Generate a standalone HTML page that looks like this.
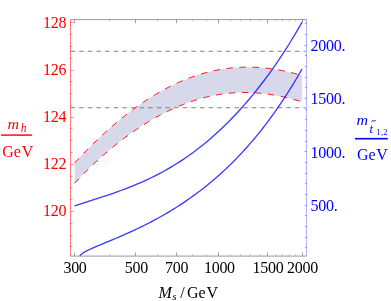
<!DOCTYPE html>
<html><head><meta charset="utf-8"><title>plot</title>
<style>
html,body{margin:0;padding:0;background:#fff;}
body{width:391px;height:301px;overflow:hidden;font-family:"Liberation Serif",serif;}
svg{display:block;font-family:"Liberation Serif",serif;will-change:transform;}
</style></head><body>
<svg width="391" height="301" viewBox="0 0 391 301">
<rect width="391" height="301" fill="#fff"/>
<path d="M74.60,162.98 L78.45,158.84 L82.31,154.78 L86.16,150.81 L90.01,146.92 L93.86,143.12 L97.72,139.41 L101.57,135.78 L105.42,132.24 L109.27,128.79 L113.13,125.43 L116.98,122.16 L120.83,118.98 L124.68,115.88 L128.54,112.88 L132.39,109.97 L136.24,107.15 L140.09,104.43 L143.95,101.80 L147.80,99.26 L151.65,96.82 L155.50,94.47 L159.36,92.21 L163.21,90.06 L167.06,87.99 L170.91,86.03 L174.77,84.16 L178.62,82.39 L182.47,80.72 L186.32,79.14 L190.18,77.66 L194.03,76.28 L197.88,75.00 L201.73,73.81 L205.59,72.73 L209.44,71.74 L213.29,70.84 L217.14,70.05 L221.00,69.35 L224.85,68.75 L228.70,68.24 L232.55,67.83 L236.41,67.52 L240.26,67.29 L244.11,67.16 L247.96,67.13 L251.82,67.18 L255.67,67.32 L259.52,67.55 L263.37,67.87 L267.23,68.27 L271.08,68.76 L274.93,69.33 L278.78,69.98 L282.64,70.70 L286.49,71.50 L290.34,72.38 L294.19,73.33 L298.05,74.34 L301.90,75.42 L301.90,101.80 L298.05,100.67 L294.19,99.59 L290.34,98.58 L286.49,97.64 L282.64,96.76 L278.78,95.96 L274.93,95.24 L271.08,94.60 L267.23,94.04 L263.37,93.56 L259.52,93.17 L255.67,92.86 L251.82,92.64 L247.96,92.52 L244.11,92.48 L240.26,92.54 L236.41,92.69 L232.55,92.93 L228.70,93.27 L224.85,93.70 L221.00,94.23 L217.14,94.85 L213.29,95.57 L209.44,96.38 L205.59,97.29 L201.73,98.29 L197.88,99.39 L194.03,100.58 L190.18,101.87 L186.32,103.25 L182.47,104.72 L178.62,106.29 L174.77,107.95 L170.91,109.70 L167.06,111.54 L163.21,113.48 L159.36,115.50 L155.50,117.62 L151.65,119.82 L147.80,122.12 L143.95,124.51 L140.09,126.98 L136.24,129.55 L132.39,132.20 L128.54,134.95 L124.68,137.79 L120.83,140.71 L116.98,143.73 L113.13,146.84 L109.27,150.04 L105.42,153.34 L101.57,156.73 L97.72,160.22 L93.86,163.81 L90.01,167.49 L86.16,171.28 L82.31,175.17 L78.45,179.17 L74.60,183.27Z" fill="#d8d8eb"/>
<path d="M70.5,51.2H305.7M70.5,107.7H305.7" stroke="#808080" stroke-width="1.1" stroke-dasharray="4.6 4.03" fill="none"/>
<path d="M74.60,162.98 L78.45,158.84 L82.31,154.78 L86.16,150.81 L90.01,146.92 L93.86,143.12 L97.72,139.41 L101.57,135.78 L105.42,132.24 L109.27,128.79 L113.13,125.43 L116.98,122.16 L120.83,118.98 L124.68,115.88 L128.54,112.88 L132.39,109.97 L136.24,107.15 L140.09,104.43 L143.95,101.80 L147.80,99.26 L151.65,96.82 L155.50,94.47 L159.36,92.21 L163.21,90.06 L167.06,87.99 L170.91,86.03 L174.77,84.16 L178.62,82.39 L182.47,80.72 L186.32,79.14 L190.18,77.66 L194.03,76.28 L197.88,75.00 L201.73,73.81 L205.59,72.73 L209.44,71.74 L213.29,70.84 L217.14,70.05 L221.00,69.35 L224.85,68.75 L228.70,68.24 L232.55,67.83 L236.41,67.52 L240.26,67.29 L244.11,67.16 L247.96,67.13 L251.82,67.18 L255.67,67.32 L259.52,67.55 L263.37,67.87 L267.23,68.27 L271.08,68.76 L274.93,69.33 L278.78,69.98 L282.64,70.70 L286.49,71.50 L290.34,72.38 L294.19,73.33 L298.05,74.34 L301.90,75.42" stroke="#ff0000" stroke-width="0.9" stroke-dasharray="6.5 6.53" fill="none"/>
<path d="M74.60,183.27 L78.45,179.17 L82.31,175.17 L86.16,171.28 L90.01,167.49 L93.86,163.81 L97.72,160.22 L101.57,156.73 L105.42,153.34 L109.27,150.04 L113.13,146.84 L116.98,143.73 L120.83,140.71 L124.68,137.79 L128.54,134.95 L132.39,132.20 L136.24,129.55 L140.09,126.98 L143.95,124.51 L147.80,122.12 L151.65,119.82 L155.50,117.62 L159.36,115.50 L163.21,113.48 L167.06,111.54 L170.91,109.70 L174.77,107.95 L178.62,106.29 L182.47,104.72 L186.32,103.25 L190.18,101.87 L194.03,100.58 L197.88,99.39 L201.73,98.29 L205.59,97.29 L209.44,96.38 L213.29,95.57 L217.14,94.85 L221.00,94.23 L224.85,93.70 L228.70,93.27 L232.55,92.93 L236.41,92.69 L240.26,92.54 L244.11,92.48 L247.96,92.52 L251.82,92.64 L255.67,92.86 L259.52,93.17 L263.37,93.56 L267.23,94.04 L271.08,94.60 L274.93,95.24 L278.78,95.96 L282.64,96.76 L286.49,97.64 L290.34,98.58 L294.19,99.59 L298.05,100.67 L301.90,101.80" stroke="#ff0000" stroke-width="0.9" stroke-dasharray="6.5 6.53" fill="none"/>
<path d="M74.60,205.90 L78.46,204.66 L82.31,203.42 L86.17,202.19 L90.02,200.95 L93.88,199.71 L97.74,198.46 L101.59,197.20 L105.45,195.91 L109.30,194.61 L113.16,193.28 L117.02,191.91 L120.87,190.51 L124.73,189.07 L128.58,187.58 L132.44,186.05 L136.29,184.46 L140.15,182.81 L144.01,181.10 L147.86,179.33 L151.72,177.49 L155.57,175.57 L159.43,173.58 L163.29,171.51 L167.14,169.35 L171.00,167.11 L174.85,164.78 L178.71,162.36 L182.57,159.85 L186.42,157.24 L190.28,154.53 L194.13,151.71 L197.99,148.80 L201.85,145.77 L205.70,142.64 L209.56,139.40 L213.41,136.05 L217.27,132.58 L221.13,128.99 L224.98,125.29 L228.84,121.47 L232.69,117.52 L236.55,113.45 L240.41,109.25 L244.26,104.92 L248.12,100.46 L251.97,95.87 L255.83,91.13 L259.68,86.26 L263.54,81.24 L267.40,76.08 L271.25,70.77 L275.11,65.29 L278.96,59.66 L282.82,53.86 L286.68,47.89 L290.53,41.75 L294.39,35.41 L298.24,28.89 L302.10,22.17" stroke="#0000ff" stroke-width="1.3" stroke-opacity="0.78" fill="none"/>
<path d="M79.76,255.96 L80.04,255.57 L80.32,255.23 L80.59,254.94 L80.87,254.66 L81.15,254.41 L81.43,254.17 L81.71,253.95 L81.99,253.73 L82.27,253.53 L82.55,253.33 L82.83,253.14 L83.11,252.95 L83.38,252.77 L83.66,252.60 L83.94,252.42 L84.22,252.26 L84.50,252.09 L84.78,251.93 L85.06,251.77 L85.34,251.62 L85.62,251.46 L85.90,251.31 L86.17,251.16 L86.45,251.01 L86.73,250.87 L87.01,250.72 L87.29,250.58 L87.57,250.44 L87.85,250.30 L88.13,250.16 L88.41,250.03 L88.69,249.89 L88.96,249.76 L89.24,249.63 L89.52,249.49 L89.80,249.36 L90.08,249.23 L90.36,249.10 L90.64,248.97 L90.92,248.84 L93.15,247.84 L95.38,246.87 L97.61,245.93 L99.84,244.99 L102.08,244.07 L104.31,243.14 L106.54,242.22 L108.77,241.30 L111.00,240.37 L113.23,239.44 L115.47,238.50 L117.70,237.56 L119.93,236.60 L122.16,235.63 L124.39,234.66 L126.63,233.67 L128.86,232.67 L131.09,231.65 L133.32,230.62 L135.55,229.58 L137.78,228.52 L140.02,227.45 L142.25,226.36 L144.48,225.25 L146.71,224.12 L148.94,222.98 L151.18,221.82 L153.41,220.64 L155.64,219.44 L157.87,218.22 L160.10,216.99 L162.33,215.73 L164.57,214.45 L166.80,213.14 L169.03,211.82 L171.26,210.47 L173.49,209.10 L175.72,207.71 L177.96,206.29 L180.19,204.85 L182.42,203.38 L184.65,201.88 L186.88,200.36 L189.12,198.82 L191.35,197.24 L193.58,195.64 L195.81,194.00 L198.04,192.34 L200.27,190.65 L202.51,188.93 L204.74,187.17 L206.97,185.39 L209.20,183.57 L211.43,181.72 L213.67,179.83 L215.90,177.91 L218.13,175.95 L220.36,173.96 L222.59,171.93 L224.82,169.87 L227.06,167.76 L229.29,165.62 L231.52,163.43 L233.75,161.21 L235.98,158.94 L238.22,156.64 L240.45,154.28 L242.68,151.89 L244.91,149.45 L247.14,146.97 L249.37,144.44 L251.61,141.86 L253.84,139.23 L256.07,136.56 L258.30,133.83 L260.53,131.06 L262.76,128.23 L265.00,125.36 L267.23,122.42 L269.46,119.44 L271.69,116.40 L273.92,113.30 L276.16,110.15 L278.39,106.93 L280.62,103.66 L282.85,100.33 L285.08,96.94 L287.31,93.49 L289.55,89.97 L291.78,86.39 L294.01,82.74 L296.24,79.03 L298.47,75.25 L300.71,71.41 L302.10,68.97" stroke="#0000ff" stroke-width="1.3" stroke-opacity="0.78" fill="none"/>
<path d="M70.5,19.6H306.5M70.5,256.1H306.5" stroke="#808080" stroke-width="0.8" fill="none"/>
<path d="M74.5,256.1v-3.6M74.5,19.6v3.6 M135.5,256.1v-3.6M135.5,19.6v3.6 M176.5,256.1v-3.6M176.5,19.6v3.6 M218.5,256.1v-3.6M218.5,19.6v3.6 M267.5,256.1v-3.6M267.5,19.6v3.6 M302.5,256.1v-3.6M302.5,19.6v3.6" stroke="#808080" stroke-width="1" stroke-opacity="0.75" fill="none"/>
<path d="M109.5,256.1v-1.8M109.5,19.6v1.8 M157.5,256.1v-1.8M157.5,19.6v1.8 M192.5,256.1v-1.8M192.5,19.6v1.8 M206.5,256.1v-1.8M206.5,19.6v1.8 M230.5,256.1v-1.8M230.5,19.6v1.8 M240.5,256.1v-1.8M240.5,19.6v1.8 M250.5,256.1v-1.8M250.5,19.6v1.8 M259.5,256.1v-1.8M259.5,19.6v1.8 M275.5,256.1v-1.8M275.5,19.6v1.8 M282.5,256.1v-1.8M282.5,19.6v1.8 M289.5,256.1v-1.8M289.5,19.6v1.8 M295.5,256.1v-1.8M295.5,19.6v1.8" stroke="#808080" stroke-width="1" stroke-opacity="0.45" fill="none"/>
<path d="M70.5,19.6V256.1" stroke="#ff0000" stroke-width="1" stroke-opacity="0.52" fill="none"/>
<path d="M70.5,246.5h2.0 M70.5,235.5h2.0 M70.5,223.5h2.0 M70.5,211.5h3.4 M70.5,199.5h2.0 M70.5,187.5h2.0 M70.5,176.5h2.0 M70.5,164.5h3.4 M70.5,152.5h2.0 M70.5,140.5h2.0 M70.5,128.5h2.0 M70.5,117.5h3.4 M70.5,105.5h2.0 M70.5,93.5h2.0 M70.5,81.5h2.0 M70.5,70.5h3.4 M70.5,58.5h2.0 M70.5,46.5h2.0 M70.5,34.5h2.0 M70.5,22.5h3.4" stroke="#ff0000" stroke-width="1" stroke-opacity="0.4" fill="none"/>
<path d="M306.5,19.6V256.1" stroke="#0000ff" stroke-width="1" stroke-opacity="0.3" fill="none"/>
<path d="M306.5,247.5h-1.4 M306.5,237.5h-1.4 M306.5,226.5h-1.4 M306.5,215.5h-1.4 M306.5,205.5h-1.8 M306.5,194.5h-1.4 M306.5,183.5h-1.4 M306.5,173.5h-1.4 M306.5,162.5h-1.4 M306.5,151.5h-1.8 M306.5,141.5h-1.4 M306.5,130.5h-1.4 M306.5,119.5h-1.4 M306.5,109.5h-1.4 M306.5,98.5h-1.8 M306.5,87.5h-1.4 M306.5,77.5h-1.4 M306.5,66.5h-1.4 M306.5,55.5h-1.4 M306.5,45.5h-1.8 M306.5,34.5h-1.4 M306.5,23.5h-1.4" stroke="#404080" stroke-width="1" stroke-opacity="0.55" fill="none"/>
<text x="66.1" y="28" fill="#ff0000" font-size="16" text-anchor="end" letter-spacing="-0.3" >128</text>
<text x="66.1" y="75" fill="#ff0000" font-size="16" text-anchor="end" letter-spacing="-0.3" >126</text>
<text x="66.1" y="122" fill="#ff0000" font-size="16" text-anchor="end" letter-spacing="-0.3" >124</text>
<text x="66.1" y="169" fill="#ff0000" font-size="16" text-anchor="end" letter-spacing="-0.3" >122</text>
<text x="66.1" y="216" fill="#ff0000" font-size="16" text-anchor="end" letter-spacing="-0.3" >120</text>
<text x="310.6" y="51" fill="#0000ff" font-size="16" text-anchor="start" letter-spacing="-0.3" >2000.</text>
<text x="310.6" y="104" fill="#0000ff" font-size="16" text-anchor="start" letter-spacing="-0.3" >1500.</text>
<text x="310.6" y="158" fill="#0000ff" font-size="16" text-anchor="start" letter-spacing="-0.3" >1000.</text>
<text x="310.6" y="211" fill="#0000ff" font-size="16" text-anchor="start" letter-spacing="-0.3" >500.</text>
<text x="75.0" y="273.4" fill="#000" font-size="16" text-anchor="middle" letter-spacing="-0.3" >300</text>
<text x="136.3" y="273.4" fill="#000" font-size="16" text-anchor="middle" letter-spacing="-0.3" >500</text>
<text x="176.6" y="273.4" fill="#000" font-size="16" text-anchor="middle" letter-spacing="-0.3" >700</text>
<text x="219.4" y="273.4" fill="#000" font-size="16" text-anchor="middle" letter-spacing="-0.3" >1000</text>
<text x="268.0" y="273.4" fill="#000" font-size="16" text-anchor="middle" letter-spacing="-0.3" >1500</text>
<text x="302.5" y="273.4" fill="#000" font-size="16" text-anchor="middle" letter-spacing="-0.3" >2000</text>
<!-- left axis label -->
<text transform="translate(7.5,128.6) scale(1,0.95)" fill="#ff0000" font-size="16" font-style="italic">m</text>
<text x="20.7" y="131.5" fill="#ff0000" font-size="11.5" font-style="italic">h</text>
<rect x="1" y="134.4" width="31.2" height="1.4" fill="#ff0000"/>
<text x="2.3" y="157" fill="#ff0000" font-size="16">Ge</text>
<text x="21.8" y="157" fill="#ff0000" font-size="16">V</text>
<!-- right axis label -->
<text transform="translate(356.4,124.7) scale(1,0.9)" fill="#0000ff" font-size="16" font-style="italic">m</text>
<text x="369.6" y="132.8" fill="#0000ff" font-size="12.5" font-style="italic">t</text>
<path d="M371.4,121.7 q0.9,-1.5 2.1,-0.9 q1.2,0.6 2.2,-0.5" stroke="#0000ff" stroke-width="0.95" fill="none"/>
<text x="376.3" y="135" fill="#0000ff" font-size="8.5" letter-spacing="0.35">1,2</text>
<rect x="354.9" y="137.9" width="32.9" height="1.6" fill="#0000ff"/>
<text x="356.9" y="159.8" fill="#0000ff" font-size="16">Ge</text>
<text x="376.3" y="159.8" fill="#0000ff" font-size="16">V</text>
<!-- bottom label -->
<text x="158.6" y="297.6" fill="#000" font-size="16" font-style="italic">M</text>
<text x="172.3" y="300.3" fill="#000" font-size="11" font-style="italic">s</text>
<text x="180.3" y="297.6" fill="#000" font-size="16">/</text>
<text x="187.0" y="297.6" fill="#000" font-size="16">Ge</text>
<text x="206.6" y="297.6" fill="#000" font-size="16">V</text>
</svg>
</body></html>
